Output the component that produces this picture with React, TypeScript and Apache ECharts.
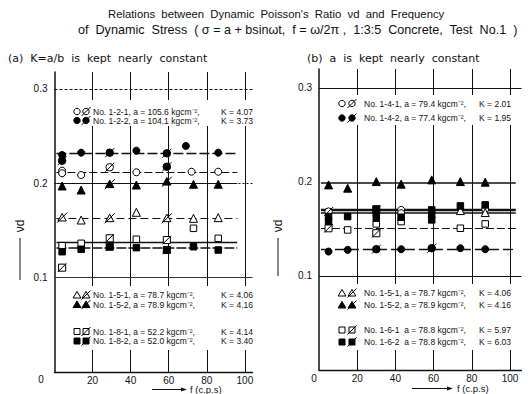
import React, { useEffect, useRef } from "react";
import * as echarts from "echarts";

const xTicks = [20, 40, 60, 80, 100];
const yTicks = [0.1, 0.2, 0.3];

// (a) K = a/b kept nearly constant  — [f (c.p.s), νd]
const l121 = [[4, 0.2134], [4, 0.2107], [14, 0.2088], [43, 0.2117], [72, 0.2123], [86, 0.2123]];
const l121s = [[29, 0.217]];
const l122 = [[4, 0.23], [14, 0.2325], [43, 0.2346], [69, 0.2396], [86, 0.2325]];
const l122s = [[4, 0.224], [29, 0.2325], [59, 0.2318], [59, 0.2176]];
const l151 = [[14, 0.1611], [43, 0.1693], [73, 0.1629], [86, 0.1636]];
const l151s = [[4, 0.1636], [29, 0.1629], [59, 0.1629]];
const l152 = [[4, 0.1972], [14, 0.1929], [43, 0.1982], [73, 0.199], [86, 0.199]];
const l152s = [[29, 0.199], [59, 0.2017]];
const l181 = [[4, 0.1339], [14, 0.1364], [43, 0.1407], [73, 0.1523], [86, 0.1417]];
const l181s = [[4, 0.1106], [29, 0.1417], [59, 0.1399]];
const l182 = [[4, 0.1275], [14, 0.1301], [43, 0.1318], [73, 0.1328], [86, 0.1293]];
const l182s = [[29, 0.1328], [59, 0.1293]];
const leftFits = [0.2117, 0.2318, 0.1629, 0.2, 0.1375, 0.1318];

// (b) a kept nearly constant
const r141 = [[43, 0.1702], [43, 0.1667], [87, 0.1709]];
const r141s = [[5, 0.1684]];
const r142 = [[5, 0.1259], [15, 0.1277], [43, 0.1284], [74, 0.1295], [87, 0.1284]];
const r142s = [[30, 0.1284], [59, 0.1295]];
const r151 = [[74, 0.1695], [87, 0.1674]];
const r151s: number[][] = [];
const r152 = [[5, 0.1968], [15, 0.1933], [30, 0.2003], [43, 0.1976], [59, 0.2021], [74, 0.2003], [87, 0.1997]];
const r152s: number[][] = [];
const r161 = [[15, 0.1489], [30, 0.1553], [43, 0.1578], [74, 0.1507], [87, 0.1553]];
const r161s = [[5, 0.1507], [30, 0.1454]];
const r162 = [[5, 0.1631], [5, 0.1578], [15, 0.1631], [30, 0.1667], [30, 0.1614], [43, 0.1624], [59, 0.1702], [59, 0.1649], [59, 0.1596], [74, 0.1745], [87, 0.1755]];
const r162s = [[30, 0.1709]];
const rightFits = [0.1702, 0.1284, 0.1667, 0.1995, 0.151, null];

const leftNames = ["No. 1-2-1, a = 105.6 kgcm⁻²,", "No. 1-2-2, a = 104.1 kgcm⁻²,", "No. 1-5-1, a = 78.7 kgcm⁻²,", "No. 1-5-2, a = 78.9 kgcm⁻²,", "No. 1-8-1, a = 52.2 kgcm⁻²,", "No. 1-8-2, a = 52.0 kgcm⁻²,"];
const leftK = ["K = 4.07", "K = 3.73", "K = 4.06", "K = 4.16", "K = 4.14", "K = 3.40"];
const rightNames = ["No. 1-4-1, a = 79.4 kgcm⁻²,", "No. 1-4-2, a = 77.4 kgcm⁻²,", "No. 1-5-1, a = 78.7 kgcm⁻²,", "No. 1-5-2, a = 78.9 kgcm⁻²,", "No. 1-6-1  a = 78.8 kgcm⁻²,", "No. 1-6-2  a = 78.8 kgcm⁻²,"];
const rightK = ["K = 2.01", "K = 1.95", "K = 4.06", "K = 4.16", "K = 5.97", "K = 6.03"];

const FONT = "Liberation Sans";
const INK = "#111";

const SLASH: Record<string, string> = {
  circle: "path://M10,5A5,5,0,1,1,0,5A5,5,0,1,1,10,5Z M-1,11L11,-1",
  triangle: "path://M5,0L10,9L0,9Z M-1,11L11,-1",
  rect: "path://M0,0L10,0L10,10L0,10Z M-1,11L11,-1",
};
const SIZE: Record<string, number> = { circle: 7, triangle: 8, rect: 6.5 };

const kinds = ["circle", "circle", "triangle", "triangle", "rect", "rect"];
const fills = [false, true, false, true, false, true];

export default function App() {
  const ref = useRef<HTMLDivElement>(null);
  useEffect(() => {
    if (!ref.current) return;
    const chart = echarts.init(ref.current, null, { renderer: "svg" });

    const leftData = [[l121, l121s], [l122, l122s], [l151, l151s], [l152, l152s], [l181, l181s], [l182, l182s]];
    const rightData = [[r141, r141s], [r142, r142s], [r151, r151s], [r152, r152s], [r161, r161s], [r162, r162s]];

    const leftFitStyles = [
      { type: [8, 3], width: 1 },
      { type: [10, 3], width: 1.3 },
      { type: [8, 4], width: 1 },
      { type: "solid", width: 1 },
      { type: "solid", width: 1.3 },
      { type: [10, 2], width: 1.6 },
    ];
    const rightFitStyles = [
      { type: "solid", width: 2.4 },
      { type: [10, 4], width: 1.3 },
      { type: "solid", width: 1.6 },
      { type: "solid", width: 1.5 },
      { type: [8, 3], width: 1 },
      { type: "solid", width: 1 },
    ];

    const gridMarks = (left: boolean) => {
      const items: any[] = xTicks.map((v) => ({ xAxis: v, lineStyle: { color: INK, width: 1, type: "solid" } }));
      if (left) {
        items.push({ yAxis: 0.3, lineStyle: { color: INK, width: 1, type: [3, 2] } });
        items.push({ yAxis: 0.2, lineStyle: { color: INK, width: 1, type: [2, 2] } });
        items.push({ yAxis: 0.1, lineStyle: { color: "#333", width: 1, type: "solid" } });
      } else {
        items.push({ yAxis: 0.3, lineStyle: { color: INK, width: 1.2, type: "solid" } });
        items.push({ yAxis: 0.1, lineStyle: { color: INK, width: 1.2, type: "solid" } });
      }
      return items;
    };

    const series: any[] = [];
    const build = (data: any[], fits: any[], styles: any[], gi: number, range: number[], prefix: string) => {
      data.forEach(([pts, sl]: any, i: number) => {
        const kind = kinds[i];
        const filled = fills[i];
        const marks: any[] = [];
        if (i === 0) marks.push(...gridMarks(gi === 0));
        if (fits[i] != null) {
          marks.push([
            { coord: [range[0], fits[i]], lineStyle: { color: INK, ...styles[i] } },
            { coord: [range[1], fits[i]] },
          ]);
        }
        series.push({
          type: "scatter",
          name: prefix + i,
          xAxisIndex: gi,
          yAxisIndex: gi,
          symbol: kind,
          symbolSize: SIZE[kind],
          itemStyle: { color: filled ? "#000" : "#fff", borderColor: "#000", borderWidth: 1, opacity: 1 },
          z: 3,
          data: [
            ...pts.map((p: number[]) => ({ value: p })),
            ...sl.map((p: number[]) => ({ value: p, symbol: SLASH[kind], symbolSize: SIZE[kind] + 2 })),
          ],
          markLine: {
            silent: true,
            symbol: ["none", "none"],
            label: { show: false },
            animation: false,
            z: 1,
            data: marks,
          },
        });
      });
    };
    build(leftData, leftFits, leftFitStyles, 0, [1, 96], "L");
    build(rightData, rightFits, rightFitStyles, 1, [1, 103], "R");

    const xAxisBase = (max: number, gi: number) => ({
      type: "value",
      gridIndex: gi,
      min: 0,
      max,
      interval: 20,
      axisLine: { show: true, lineStyle: { color: INK, width: 1.3 } },
      axisTick: { show: false },
      splitLine: { show: false },
      axisLabel: {
        margin: 3,
        color: INK,
        fontFamily: FONT,
        fontSize: 10,
        formatter: (v: number) => (xTicks.includes(v) ? String(v) : ""),
      },
    });
    const yAxisBase = (max: number, gi: number) => ({
      type: "value",
      gridIndex: gi,
      min: 0,
      max,
      interval: 0.1,
      axisLine: { show: true, lineStyle: { color: INK, width: 1.5 } },
      axisTick: { show: false },
      splitLine: { show: false },
      axisLabel: {
        margin: 7,
        color: INK,
        fontFamily: FONT,
        fontSize: 10,
        formatter: (v: number) => {
          const t = yTicks.find((y) => Math.abs(y - v) < 1e-6);
          return t != null ? t.toFixed(1) : "";
        },
      },
    });

    const txt = (text: string, x: number, y: number, size: number, align = "left", family = FONT, extra: any = {}) => ({
      type: "text",
      x,
      y,
      z: 20,
      ...extra,
      style: {
        text,
        fill: INK,
        fontSize: size,
        fontFamily: family,
        align,
        textAlign: align,
        verticalAlign: "middle",
        textVerticalAlign: "middle",
      },
    });

    const marker = (kind: string, filled: boolean, slashed: boolean, x: number, y: number) => {
      const st = { fill: filled ? "#000" : "#fff", stroke: "#000", lineWidth: 1 };
      const els: any[] = [];
      if (kind === "circle") els.push({ type: "circle", z: 21, shape: { cx: x, cy: y, r: 3.2 }, style: st });
      if (kind === "triangle")
        els.push({ type: "polygon", z: 21, shape: { points: [[x, y - 3.6], [x + 3.9, y + 3], [x - 3.9, y + 3]] }, style: st });
      if (kind === "rect") els.push({ type: "rect", z: 21, shape: { x: x - 3, y: y - 3, width: 6, height: 6 }, style: st });
      if (slashed)
        els.push({ type: "line", z: 22, shape: { x1: x - 4.5, y1: y + 4.5, x2: x + 4.5, y2: y - 4.5 }, style: { stroke: "#000", lineWidth: 1 } });
      return els;
    };

    const graphic: any[] = [];
    // white legend blocks
    [[70, 100, 186, 26], [70, 286, 186, 64], [334, 95, 182, 30], [334, 284, 182, 66]].forEach(([x, y, w, h]) =>
      graphic.push({ type: "rect", z: 15, shape: { x, y, width: w, height: h }, style: { fill: "#fff" } })
    );

    const leftRows = [111.5, 120.5, 295, 304.5, 331.5, 341];
    leftRows.forEach((y, i) => {
      graphic.push(...marker(kinds[i], fills[i], false, 77, y));
      graphic.push(...marker(kinds[i], fills[i], true, 86, y));
      graphic.push(txt(leftNames[i], 93, y, 8.5));
      graphic.push(txt(leftK[i], 253, y, 8.5, "right"));
    });
    const rightRows = [103.5, 118, 293, 305, 330, 342];
    rightRows.forEach((y, i) => {
      graphic.push(...marker(kinds[i], fills[i], false, 342, y));
      graphic.push(...marker(kinds[i], fills[i], true, 352, y));
      graphic.push(txt(rightNames[i], 364, y, 8.5));
      graphic.push(txt(rightK[i], 511, y, 8.5, "right"));
    });

    // titles
    graphic.push(txt("Relations  between  Dynamic  Poisson's  Ratio  νd  and  Frequency", 108, 14, 11.3));
    graphic.push(txt("of  Dynamic  Stress  ( σ = a + bsinωt,  f = ω/2π ,  1:3:5  Concrete,  Test  No.1  )", 78, 30, 12.6));
    graphic.push(txt("(a)  K=a/b  is  kept  nearly  constant", 8, 58, 11, "left", "DejaVu Sans"));
    graphic.push(txt("(b)  a  is  kept  nearly  constant", 307, 58, 11, "left", "DejaVu Sans"));

    // origin labels
    graphic.push(txt("0", 41, 379, 10, "center"));
    graphic.push(txt("0", 314, 378, 10, "center"));

    // y-axis titles
    graphic.push(txt("νd", 20, 226, 12, "center", FONT, { rotation: Math.PI / 2 }));
    graphic.push({ type: "line", z: 20, shape: { x1: 20, y1: 238, x2: 20, y2: 280 }, style: { stroke: INK, lineWidth: 1 } });
    graphic.push(txt("νd", 278, 226, 12, "center", FONT, { rotation: Math.PI / 2 }));
    graphic.push({ type: "line", z: 20, shape: { x1: 278, y1: 238, x2: 278, y2: 276 }, style: { stroke: INK, lineWidth: 1 } });

    // x-axis titles
    graphic.push({ type: "line", z: 20, shape: { x1: 152, y1: 389.5, x2: 184, y2: 389.5 }, style: { stroke: INK, lineWidth: 1 } });
    graphic.push({ type: "polygon", z: 20, shape: { points: [[187, 389.5], [181, 387.5], [181, 391.5]] }, style: { fill: INK } });
    graphic.push(txt("f (c.p.s)", 190, 389.5, 9.5));
    graphic.push({ type: "line", z: 20, shape: { x1: 412, y1: 388.5, x2: 450, y2: 388.5 }, style: { stroke: INK, lineWidth: 1 } });
    graphic.push({ type: "polygon", z: 20, shape: { points: [[453, 388.5], [447, 386.5], [447, 390.5]] }, style: { fill: INK } });
    graphic.push(txt("f (c.p.s)", 457, 388.5, 9.5));

    chart.setOption({
      animation: false,
      backgroundColor: "#fff",
      grid: [
        { left: 54.5, top: 72, width: 198, height: 300 },
        { left: 319, top: 69, width: 202.5, height: 301 },
      ],
      xAxis: [xAxisBase(104, 0), xAxisBase(106, 1)],
      yAxis: [yAxisBase(0.318, 0), yAxisBase(0.32, 1)],
      series,
      graphic,
    });
    return () => chart.dispose();
  }, []);
  return <div ref={ref} style={{ width: 531, height: 394, position: "absolute", left: 0, top: 0 }} />;
}
